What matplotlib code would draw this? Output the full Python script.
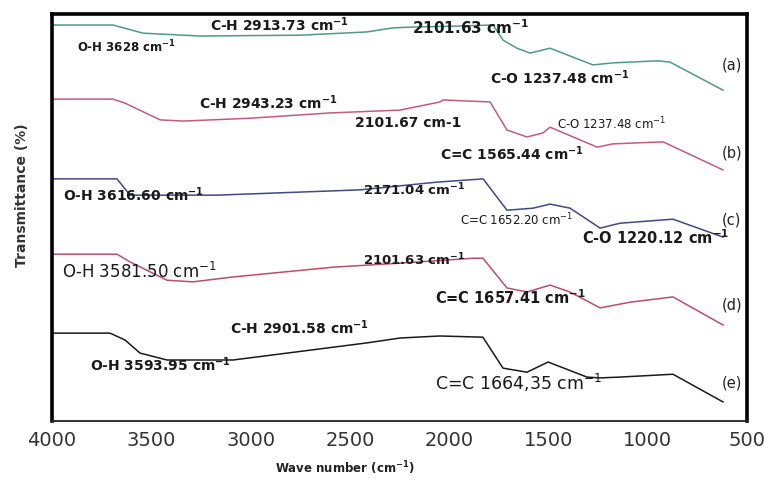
import matplotlib
matplotlib.use("Agg")
import matplotlib.pyplot as plt

plt.rcParams['font.family'] = ['DejaVu Sans']
plt.rcParams['mathtext.default'] = 'regular'

# ---- data (wavenumber cm-1, transmittance, offset-stacked) ----
wn_a = [3995, 3693, 3617, 3542, 3255, 2751, 2414, 2283, 2187, 1996, 1779, 1729, 1658, 1593, 1492, 1276, 1175, 953, 888, 621]
tr_a = [97.3, 97.3, 96.3, 95.3, 94.6, 94.8, 95.6, 96.6, 96.8, 97.0, 97.3, 93.6, 91.6, 90.4, 91.6, 87.5, 88.0, 88.5, 88.2, 81.3]

wn_b = [3995, 3693, 3632, 3456, 3340, 3003, 2600, 2247, 2046, 2031, 1895, 1794, 1709, 1608, 1527, 1492, 1255, 1175, 923, 621]
tr_b = [79.1, 79.1, 78.1, 74.0, 73.7, 74.4, 75.7, 76.4, 78.4, 78.9, 78.6, 78.4, 71.5, 69.8, 70.8, 72.2, 67.3, 68.1, 68.6, 61.7]

wn_c = [3995, 3673, 3607, 3169, 2449, 2061, 1829, 1709, 1578, 1492, 1391, 1240, 1140, 873, 621]
tr_c = [59.5, 59.5, 55.5, 55.5, 56.8, 58.7, 59.5, 51.8, 52.3, 53.3, 52.3, 47.4, 48.6, 49.6, 45.2]

wn_d = [3995, 3673, 3607, 3421, 3290, 3088, 2585, 2247, 1880, 1830, 1709, 1608, 1492, 1391, 1240, 1089, 873, 621]
tr_d = [41.0, 41.0, 39.1, 34.6, 34.2, 35.4, 37.8, 38.8, 40.0, 40.0, 32.7, 31.7, 33.4, 31.7, 27.8, 29.2, 30.5, 23.6]

wn_e = [3995, 3708, 3632, 3557, 3421, 3088, 2414, 2247, 2046, 1830, 1729, 1608, 1502, 1306, 1240, 1140, 873, 621]
tr_e = [21.6, 21.6, 19.9, 16.7, 15.0, 15.0, 19.2, 20.4, 20.9, 20.6, 13.0, 12.0, 14.5, 10.8, 10.6, 10.8, 11.5, 4.7]

series_colors = ['#4f9a86', '#c25d78', '#3d4b86', '#b94f68', '#1a1a1a']
series_tags = ['(a)', '(b)', '(c)', '(d)', '(e)']

xticks = [4000, 3500, 3000, 2500, 2000, 1500, 1000, 500]

# annotations: text, x (cm-1), y, fontsize, weight
peak_labels = [
    ('O-H 3628 cm$^{-1}$', 3874, 91.9, 8.5, 'bold'),
    ('C-H 2913.73 cm$^{-1}$', 3204, 97.3, 10, 'bold'),
    ('2101.63 cm$^{-1}$', 2187, 96.6, 11, 'bold'),
    ('C-O 1237.48 cm$^{-1}$', 1794, 84.3, 10, 'bold'),
    ('C-H 2943.23 cm$^{-1}$', 3260, 78.1, 10, 'bold'),
    ('2101.67 cm-1', 2474, 73.2, 10, 'bold'),
    ('C-O 1237.48 cm$^{-1}$', 1457, 73.0, 8.5, 'normal'),
    ('C=C 1565.44 cm$^{-1}$', 2046, 65.8, 10, 'bold'),
    ('O-H 3616.60 cm$^{-1}$', 3945, 55.5, 10, 'bold'),
    ('2171.04 cm$^{-1}$', 2434, 56.8, 9.5, 'bold'),
    ('C=C 1652.20 cm$^{-1}$', 1945, 49.4, 8.5, 'normal'),
    ('C-O 1220.12 cm$^{-1}$', 1331, 45.0, 10.5, 'bold'),
    ('O-H 3581.50 cm$^{-1}$', 3950, 36.6, 12, 'normal'),
    ('2101.63 cm$^{-1}$', 2434, 39.6, 9.5, 'bold'),
    ('C=C 1657.41 cm$^{-1}$', 2071, 30.2, 10.5, 'bold'),
    ('C-H 2901.58 cm$^{-1}$', 3104, 22.9, 10, 'bold'),
    ('O-H 3593.95 cm$^{-1}$', 3809, 13.8, 10, 'bold'),
    ('C=C 1664,35 cm$^{-1}$', 2071, 9.3, 12.5, 'normal'),
]
tag_y = [87.5, 65.8, 49.4, 28.5, 9.3]

fig = plt.figure(figsize=(7.65, 4.79), dpi=100)
ax = fig.add_axes([0.068, 0.121, 0.9085, 0.8497])

for wn, tr, col in zip([wn_a, wn_b, wn_c, wn_d, wn_e],
                       [tr_a, tr_b, tr_c, tr_d, tr_e], series_colors):
    ax.plot(wn, tr, color=col, lw=1.1)

for tag, ty in zip(series_tags, tag_y):
    ax.text(626, ty, tag, fontsize=10.5, ha='left', va='center', color='#222222')

for txt, x, y, fs, fw in peak_labels:
    ax.text(x, y, txt, fontsize=fs, fontweight=fw, ha='left', va='center',
            color='#1a1a1a')

ax.set_xlim(4000, 500)
ax.set_ylim(0, 100)
ax.set_xticks(xticks)
ax.set_xticklabels([str(t) for t in xticks], fontsize=14, color='#333333')
ax.set_yticks([])
ax.tick_params(axis='x', length=0, pad=7)

for side in ['left', 'right', 'top']:
    ax.spines[side].set_linewidth(2.6)
    ax.spines[side].set_color('black')
ax.spines['bottom'].set_linewidth(1.3)
ax.spines['bottom'].set_color('#222222')

fig.text(0.451, 0.023, 'Wave number (cm$^{-1}$)', fontsize=8.5, fontweight='bold',
         ha='center', va='center', color='#222222')
fig.text(0.029, 0.593, 'Transmittance (%)', fontsize=10, fontweight='bold',
         rotation=90, ha='center', va='center', color='#333333')

fig.savefig('out.png', dpi=100)
